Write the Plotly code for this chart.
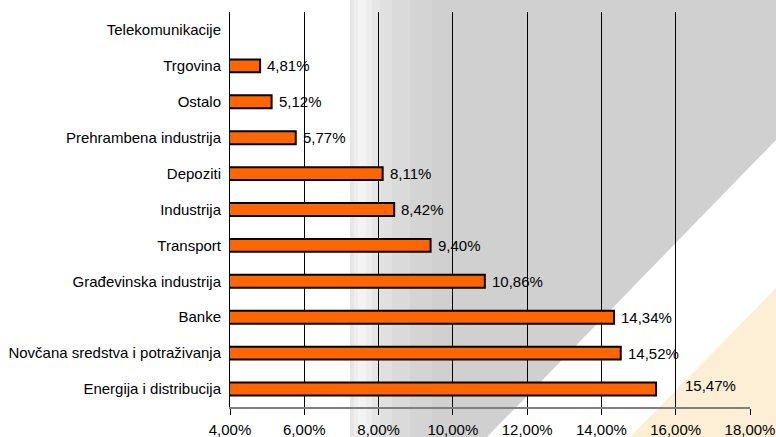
import plotly.graph_objects as go

# ---- data (bottom to top) ----
categories = [
    "Energija i distribucija",
    "Novčana sredstva i potraživanja",
    "Banke",
    "Građevinska industrija",
    "Transport",
    "Industrija",
    "Depoziti",
    "Prehrambena industrija",
    "Ostalo",
    "Trgovina",
    "Telekomunikacije",
]
values_pct = [15.47, 14.52, 14.34, 10.86, 9.40, 8.42, 8.11, 5.77, 5.12, 4.81, None]
x_ticks_pct = [4, 6, 8, 10, 12, 14, 16, 18]

# ---- style / layout constants ----
W, H = 776, 437
ML, MR, MT, MB = 230, 26, 12, 30
FONT = "Liberation Sans, Arial, sans-serif"
FS = 15
LABEL_NUDGE = {"Energija i distribucija": (27, 4)}

values = [None if v is None else v / 100 for v in values_pct]
x_ticks = [t / 100 for t in x_ticks_pct]


def pct_label(v):
    return f"{v:.2f}".replace(".", ",") + "%"


pw = W - ML - MR
ph = H - MT - MB


def px(xp):
    return (xp - ML) / pw


def py(yp):
    return (H - MB - yp) / ph


fig = go.Figure()
fig.add_trace(
    go.Bar(
        x=values,
        y=categories,
        orientation="h",
        width=0.36,
        marker=dict(color="#FF6600", line=dict(color="#000000", width=2)),
        hoverinfo="x+y",
    )
)

annotations = []
for c, v in zip(categories, values):
    if v is None:
        continue
    dx, dy = LABEL_NUDGE.get(c, (5, 0))
    annotations.append(
        dict(
            x=v, y=c, xref="x", yref="y", text=pct_label(v * 100),
            showarrow=False, xanchor="left", yanchor="middle",
            xshift=dx, yshift=dy,
            font=dict(family=FONT, size=FS, color="#000000"),
        )
    )

# ---- background decoration (gray band with gradient edge, peach corner) ----
shapes = []
stripes = [
    (350, 354, "#e6e6e6"),
    (354, 358, "#eeeeee"),
    (358, 366, "#f3f3f3"),
    (366, 372, "#ededed"),
    (372, 380, "#e6e6e6"),
    (380, 392, "#e0e0e0"),
    (392, 410, "#dadada"),
    (410, 432, "#d4d4d4"),
]
for x0, x1, col in stripes:
    shapes.append(dict(type="rect", xref="paper", yref="paper",
                       x0=px(x0), x1=px(x1), y0=py(H), y1=py(0),
                       fillcolor=col, line=dict(width=0), layer="below"))
poly = [(432, 0), (W, 0), (W, 140), (487, H), (432, H)]
path = "M " + " L ".join(f"{px(a)},{py(b)}" for a, b in poly) + " Z"
shapes.append(dict(type="path", xref="paper", yref="paper", path=path,
                   fillcolor="#d0d0d0", line=dict(width=0), layer="below"))
tri = [(W, 288), (W, H), (630, H)]
path2 = "M " + " L ".join(f"{px(a)},{py(b)}" for a, b in tri) + " Z"
shapes.append(dict(type="path", xref="paper", yref="paper", path=path2,
                   fillcolor="#fdefd6", line=dict(width=0), layer="below"))

fig.update_layout(
    width=W, height=H, autosize=False,
    margin=dict(l=ML, r=MR, t=MT, b=MB, pad=0, autoexpand=False),
    paper_bgcolor="#ffffff",
    plot_bgcolor="rgba(0,0,0,0)",
    separators=", ",
    showlegend=False,
    font=dict(family=FONT, size=FS, color="#000000"),
    shapes=shapes,
    annotations=annotations,
    xaxis=dict(
        range=[0.04, 0.18],
        tickvals=x_ticks,
        tickformat=".2%",
        showgrid=True, gridcolor="#000000", gridwidth=1,
        zeroline=False,
        showline=True, linecolor="#808080", linewidth=2,
        ticks="outside", ticklen=6, tickcolor="#000000", tickwidth=1,
        ticklabelstandoff=2,
        automargin=False,
        tickfont=dict(family=FONT, size=FS, color="#000000"),
        fixedrange=True,
    ),
    yaxis=dict(
        type="category",
        categoryorder="array",
        categoryarray=categories,
        range=[-0.5, len(categories) - 0.5],
        showgrid=False, zeroline=False,
        showline=True, linecolor="#000000", linewidth=1,
        ticks="", ticklabelstandoff=5,
        automargin=False,
        tickfont=dict(family=FONT, size=FS, color="#000000"),
        fixedrange=True,
    ),
)

fig.write_html(
    "out.html",
    config={"displayModeBar": False},
    post_script="document.body.style.margin='0';document.body.style.padding='0';document.body.style.overflow='hidden';",
)
